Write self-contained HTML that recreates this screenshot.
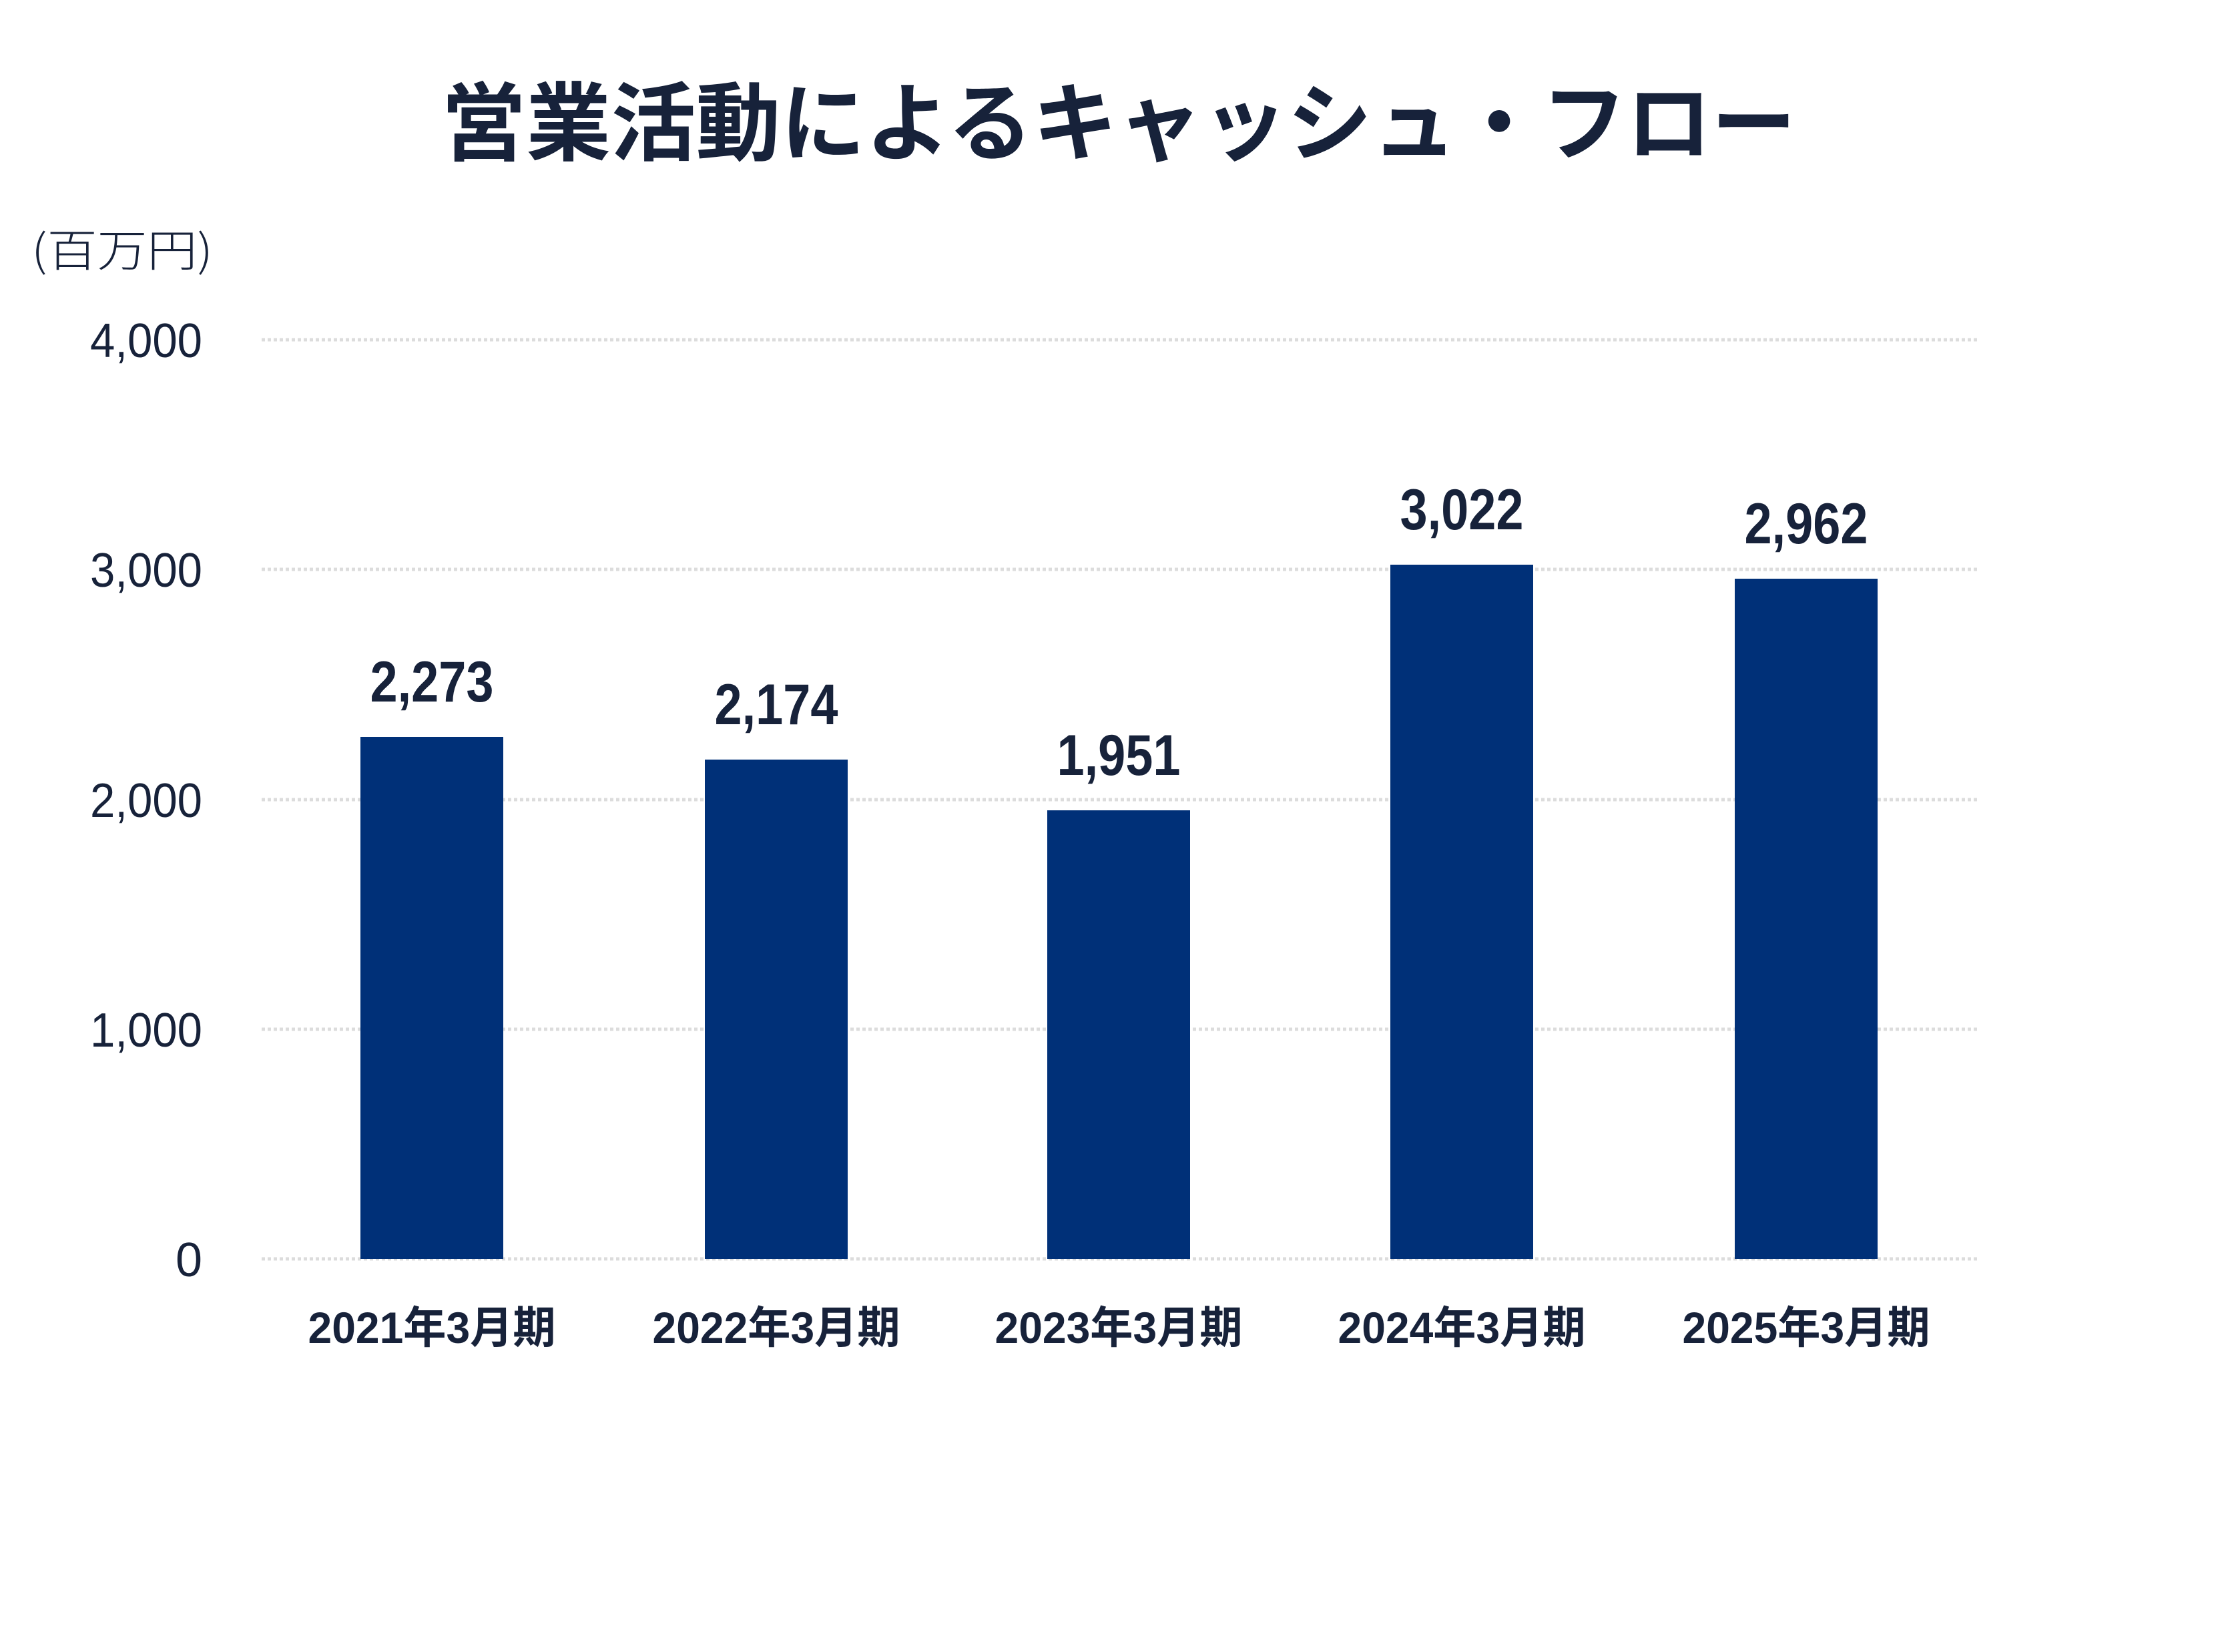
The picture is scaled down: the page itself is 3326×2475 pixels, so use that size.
<!DOCTYPE html>
<html><head><meta charset="utf-8"><style>
html,body{margin:0;padding:0;background:#fff;}
svg{display:block;}
text{fill:#17223a;}
</style></head><body>
<svg width="3326" height="2475" viewBox="0 0 3326 2475" xmlns="http://www.w3.org/2000/svg">
<rect width="3326" height="2475" fill="#fff"/>
<text x="1676" y="230" font-size="128" font-weight="bold" text-anchor="middle" font-family="Noto Sans CJK JP, sans-serif" textLength="2030" lengthAdjust="spacingAndGlyphs">営業活動によるキャッシュ・フロー</text>
<text x="47" y="399" font-size="66" font-weight="300" font-family="Noto Sans CJK JP, sans-serif" textLength="272" lengthAdjust="spacingAndGlyphs">(百万円)</text>
<g stroke="#dcdcdc" stroke-width="5" stroke-dasharray="5 4">
<line x1="392" y1="509" x2="2966" y2="509"/>
<line x1="392" y1="853" x2="2966" y2="853"/>
<line x1="392" y1="1198" x2="2966" y2="1198"/>
<line x1="392" y1="1542" x2="2966" y2="1542"/>
<line x1="392" y1="1886" x2="2966" y2="1886"/>
</g>
<g font-size="72" text-anchor="end" font-family="Liberation Sans, sans-serif">
<text x="303" y="535" textLength="168" lengthAdjust="spacingAndGlyphs">4,000</text>
<text x="303" y="879" textLength="168" lengthAdjust="spacingAndGlyphs">3,000</text>
<text x="303" y="1224" textLength="168" lengthAdjust="spacingAndGlyphs">2,000</text>
<text x="303" y="1568" textLength="168" lengthAdjust="spacingAndGlyphs">1,000</text>
<text x="303" y="1912">0</text>
</g>
<g fill="#003078">
<rect x="540" y="1104" width="214" height="782"/>
<rect x="1056" y="1138" width="214" height="748"/>
<rect x="1569" y="1214" width="214" height="672"/>
<rect x="2083" y="846" width="214" height="1040"/>
<rect x="2599" y="867" width="214" height="1019"/>
</g>
<g font-size="86" font-weight="bold" text-anchor="middle" font-family="Liberation Sans, sans-serif">
<text x="647" y="1051" textLength="185" lengthAdjust="spacingAndGlyphs">2,273</text>
<text x="1163" y="1085" textLength="185" lengthAdjust="spacingAndGlyphs">2,174</text>
<text x="1676" y="1161" textLength="185" lengthAdjust="spacingAndGlyphs">1,951</text>
<text x="2190" y="793" textLength="185" lengthAdjust="spacingAndGlyphs">3,022</text>
<text x="2706" y="814" textLength="185" lengthAdjust="spacingAndGlyphs">2,962</text>
</g>
<g font-size="66" font-weight="bold" text-anchor="middle" font-family="Liberation Sans, Noto Sans CJK JP, sans-serif">
<text x="647" y="2012" textLength="371" lengthAdjust="spacingAndGlyphs">2021年3月期</text>
<text x="1163" y="2012" textLength="371" lengthAdjust="spacingAndGlyphs">2022年3月期</text>
<text x="1676" y="2012" textLength="371" lengthAdjust="spacingAndGlyphs">2023年3月期</text>
<text x="2190" y="2012" textLength="371" lengthAdjust="spacingAndGlyphs">2024年3月期</text>
<text x="2706" y="2012" textLength="371" lengthAdjust="spacingAndGlyphs">2025年3月期</text>
</g>
</svg>
</body></html>
